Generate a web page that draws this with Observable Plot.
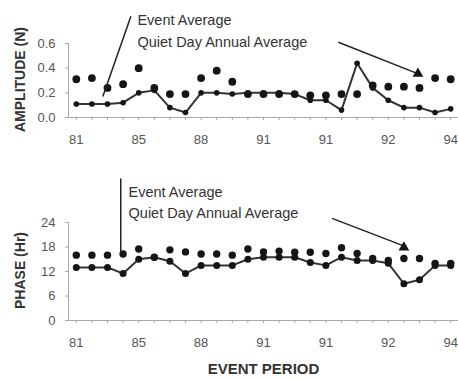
<!DOCTYPE html>
<html><head><meta charset="utf-8">
<script src="https://cdn.jsdelivr.net/npm/d3@7"></script>
<script src="https://cdn.jsdelivr.net/npm/@observablehq/plot@0.6"></script>
<style>
body{margin:0;background:#fff;}
#chart{width:458px;height:379px;overflow:hidden;font-family:"Liberation Sans",Arial,sans-serif;}
#chart svg{display:block;}
</style></head><body><div id="chart"></div>
<script>
// Event periods (x categories) and tick labels
const eventNo = [1,2,3,4,5,6,7,8,9,10,11,12,13,14,15,16,17,18,19,20,21,22,23,24,25];
const xTickEvents = [1,5,9,13,17,21,25];
const xTickLabels = ["81","85","88","91","91","92","94"];

// Amplitude (N)
const ampEventAvg = [0.11,0.11,0.11,0.12,0.20,0.22,0.08,0.04,0.20,0.20,0.19,0.20,0.20,0.20,0.19,0.14,0.14,0.06,0.44,0.24,0.14,0.08,0.08,0.04,0.07];
const ampQuietAvg = [0.31,0.32,0.24,0.27,0.40,0.24,0.19,0.19,0.32,0.38,0.29,0.19,0.19,0.19,0.19,0.18,0.18,0.19,0.19,0.26,0.25,0.25,0.24,0.32,0.31];
const ampTicks = [0,0.2,0.4,0.6];

// Phase (Hr)
const phaseEventAvg = [13,13,13,11.5,15,15.5,14.5,11.5,13.5,13.5,13.5,15,15.5,15.5,15.5,14.2,13.5,15.5,14.7,14.7,14,9,10,13.5,13.5];
const phaseQuietAvg = [16,16,16,16.3,17.5,15.5,17.3,16.8,16.3,16.3,16,17.5,16.8,17,16.7,16.7,16.4,17.8,16.4,15.2,14.7,15.2,15.2,14,14];
const phaseTicks = [0,6,12,18,24];

const labelMap = new Map(xTickEvents.map((e,i)=>[e,xTickLabels[i]]));
const ampData = eventNo.map((e,i)=>({e, ev: ampEventAvg[i], q: ampQuietAvg[i]}));
const phaseData = eventNo.map((e,i)=>({e, ev: phaseEventAvg[i], q: phaseQuietAvg[i]}));

const FONT = '"Liberation Sans", Arial, sans-serif';
const AXIS = "#a8a8a8";
const TXT = "#555";
const INK = "#151515";

function xAxes(){
  return [
    Plot.ruleY([0], {stroke: AXIS}),
    Plot.frame({anchor: "left", stroke: AXIS}),
    Plot.axisX({ticks: eventNo, tickFormat: () => "", tickSize: 3, stroke: AXIS, label: null}),
    Plot.axisX({ticks: xTickEvents, tickFormat: d => labelMap.get(d), tickSize: 0, tickPadding: 17, fontSize: 13, fill: TXT, label: null})
  ];
}
const common = {
  width: 458, marginLeft: 68, marginRight: 0,
  x: {domain: [0.5, 25.5]},
  style: {fontFamily: FONT, fontSize: "13px", color: TXT, background: "#fff", overflow: "visible"}
};

const ampPlot = Plot.plot({
  ...common, height: 150, marginTop: 43, marginBottom: 33,
  y: {domain: [0, 0.6]},
  marks: [
    ...xAxes(),
    Plot.axisY({ticks: ampTicks, tickFormat: d3.format(".1f"), tickSize: 3, tickPadding: 10, stroke: AXIS, fill: TXT, fontSize: 13, label: null}),
    Plot.text(["AMPLITUDE (N)"], {frameAnchor: "left", textAnchor: "middle", dx: -48, dy: -1, rotate: -90, fontWeight: "bold", fontSize: 14, fill: "#333"}),
    Plot.line(ampData, {x: "e", y: "ev", stroke: "#333", strokeWidth: 2}),
    Plot.dot(ampData, {x: "e", y: "ev", r: 2.8, fill: INK, stroke: "none"}),
    Plot.dot(ampData, {x: "e", y: "q", r: 3.9, fill: INK, stroke: "none"}),
    Plot.link([0], {x1: 4.5, y1: 0.82, x2: 2.7, y2: 0.17, stroke: "#222", strokeWidth: 1.5}),
    Plot.link([0], {x1: 17.8, y1: 0.61, x2: 22.8, y2: 0.36, stroke: "#222", strokeWidth: 1.5}),
    Plot.dot([0], {x: 22.9, y: 0.355, symbol: "triangle", r: 4, fill: INK}),
    Plot.text(["Event Average"], {x: 4.92, y: 0.79, textAnchor: "start", fontSize: 14.5, fill: "#333"}),
    Plot.text(["Quiet Day Annual Average"], {x: 4.92, y: 0.61, textAnchor: "start", fontSize: 14.5, fill: "#333"})
  ]
});

const phasePlot = Plot.plot({
  ...common, height: 229, marginTop: 72, marginBottom: 59,
  y: {domain: [0, 24]},
  marks: [
    ...xAxes(),
    Plot.axisY({ticks: phaseTicks, tickSize: 3, tickPadding: 10, stroke: AXIS, fill: TXT, fontSize: 13, label: null}),
    Plot.text(["PHASE (Hr)"], {frameAnchor: "left", textAnchor: "middle", dx: -48, dy: -1, rotate: -90, fontWeight: "bold", fontSize: 14, fill: "#333"}),
    Plot.text(["EVENT PERIOD"], {frameAnchor: "bottom", dy: 53, fontWeight: "bold", fontSize: 15, fill: "#333"}),
    Plot.line(phaseData, {x: "e", y: "ev", stroke: "#333", strokeWidth: 2}),
    Plot.dot(phaseData, {x: "e", y: "ev", r: 3.5, fill: INK, stroke: "none"}),
    Plot.dot(phaseData, {x: "e", y: "q", r: 3.7, fill: INK, stroke: "none"}),
    Plot.link([0], {x1: 3.85, y1: 34.8, x2: 3.85, y2: 16.4, stroke: "#222", strokeWidth: 1.5}),
    Plot.link([0], {x1: 17.4, y1: 25, x2: 21.9, y2: 18.4, stroke: "#222", strokeWidth: 1.5}),
    Plot.dot([0], {x: 22.0, y: 17.9, symbol: "triangle", r: 4, fill: INK}),
    Plot.text(["Event Average"], {x: 4.35, y: 31.3, textAnchor: "start", fontSize: 14.5, fill: "#333"}),
    Plot.text(["Quiet Day Annual Average"], {x: 4.35, y: 26.2, textAnchor: "start", fontSize: 14.5, fill: "#333"})
  ]
});

document.getElementById("chart").append(ampPlot, phasePlot);
</script>
</body></html>
